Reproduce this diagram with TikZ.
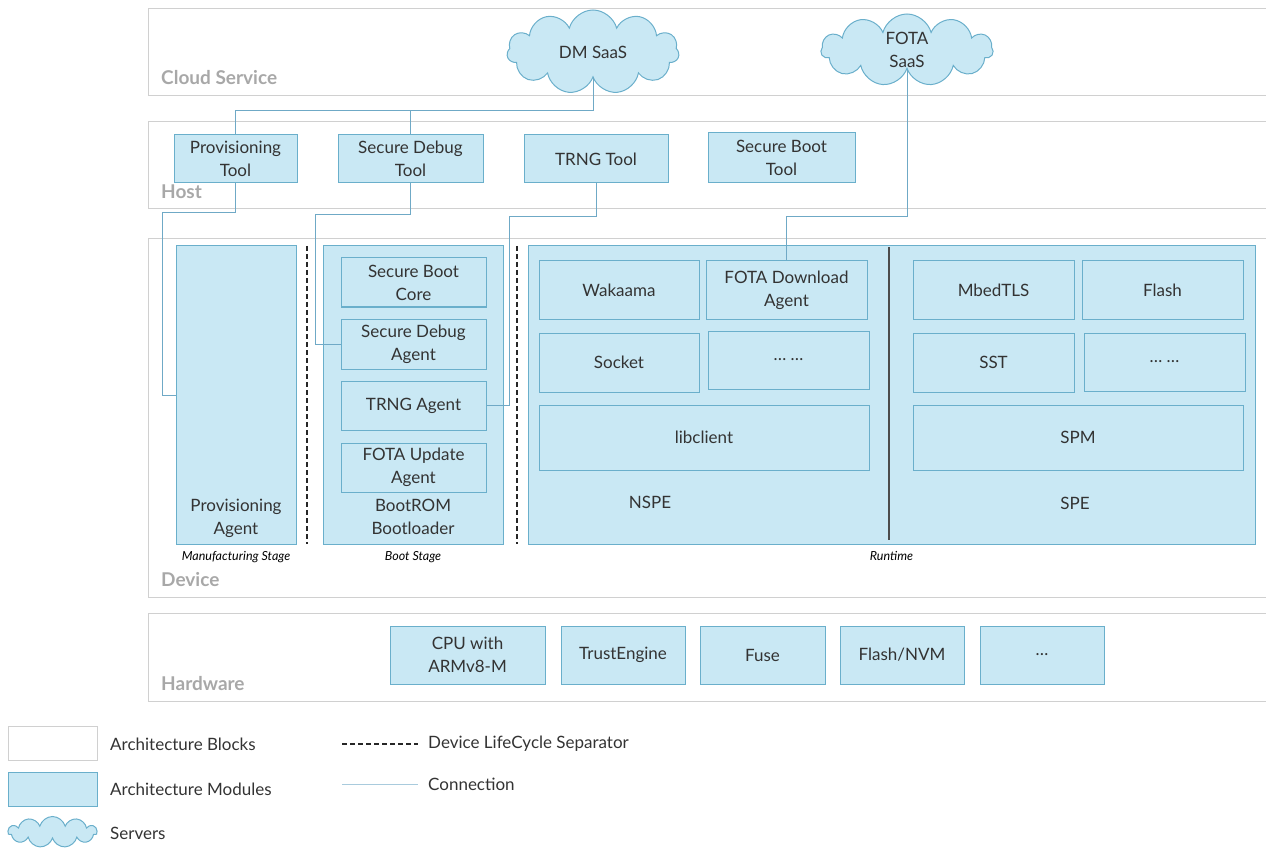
\documentclass[tikz,border=0pt]{standalone}
\usepackage{fontspec}
\setmainfont{Lato}
\usetikzlibrary{shapes.symbols}
\definecolor{modfill}{HTML}{C9E8F4}
\definecolor{moddraw}{HTML}{6AAFCB}
\definecolor{blkdraw}{HTML}{D0D0D0}
\definecolor{lblgray}{HTML}{A8A8A8}
\definecolor{txtgray}{HTML}{333333}
\definecolor{connblue}{HTML}{6FA9C6}

\begin{document}
\begin{tikzpicture}[x=1pt,y=-1pt]
\tikzstyle{every node}+=[inner sep=0pt, text=txtgray, align=center, font=\fontsize{17}{23}\selectfont]
\tikzstyle{block}=[draw=blkdraw, line width=1.3pt, rectangle, anchor=north west]
\tikzstyle{module}=[draw=moddraw, fill=modfill, line width=1pt, rectangle]
\tikzstyle{server}=[cloud, cloud puffs=11, aspect=2.2, draw=moddraw, fill=modfill, line width=1pt]
\tikzstyle{blklabel}=[anchor=west, text=lblgray, font=\bfseries\fontsize{19}{21}\selectfont]
\tikzstyle{stagelabel}=[font=\itshape\fontsize{12.5}{14}\selectfont, text=black]
\tikzstyle{conn}=[draw=connblue, line width=0.8pt]
\tikzstyle{sep}=[draw=black!85, line width=1.4pt, dash pattern=on 5pt off 3pt]
\useasboundingbox (0,0) rectangle (1266,850);
% blocks
\node[block, minimum width=1122, minimum height=87] (cloudblk) at (148,8) {};
\node[blklabel] (cloudlbl) at (161,78) {Cloud Service};
\node[block, minimum width=1122, minimum height=87] (hostblk) at (148,121) {};
\node[blklabel] (hostlbl) at (161,192) {Host};
\node[block, minimum width=1122, minimum height=359] (deviceblk) at (148,238) {};
\node[blklabel] (devicelbl) at (161,580) {Device};
\node[block, minimum width=1122, minimum height=88] (hwblk) at (148,613) {};
\node[blklabel] (hwlbl) at (161,684) {Hardware};
% cloud service
\node[server, minimum width=172, minimum height=84] (dmsaas) at (593,52) {DM SaaS};
\node[server, minimum width=172, minimum height=72] (fotasaas) at (907,50) {FOTA\\SaaS};
% host
\node[module, minimum width=123, minimum height=48] (provtool) at (235.5,159) {Provisioning\\Tool};
\node[module, minimum width=145, minimum height=48] (dbgtool) at (410.5,159) {Secure Debug\\Tool};
\node[module, minimum width=144, minimum height=48] (trngtool) at (596,159) {TRNG Tool};
\node[module, minimum width=147, minimum height=50] (boottool) at (781.5,158) {Secure Boot\\Tool};
% device: manufacturing stage
\node[module, minimum width=120, minimum height=298,
  label={[anchor=south, yshift=-292pt]north:{Provisioning\\Agent}},
  label={[stagelabel, yshift=-7pt]south:Manufacturing Stage}] (provagent) at (236,395) {};
\draw[sep] (307,246) -- (307,544);
% device: boot stage
\node[module, minimum width=180, minimum height=298,
  label={[anchor=south, yshift=-289pt]north:{BootROM\\Bootloader}},
  label={[stagelabel, yshift=-7pt]south:Boot Stage}] (bootblk) at (413,395) {};
\node[module, minimum width=145, minimum height=49] (bootcore) at (413.5,282.5) {Secure Boot\\Core};
\node[module, minimum width=145, minimum height=50] (dbgagent) at (413.5,344) {Secure Debug\\Agent};
\node[module, minimum width=145, minimum height=49] (trngagent) at (413.5,405.5) {TRNG Agent};
\node[module, minimum width=145, minimum height=49] (updagent) at (413.5,467.5) {FOTA Update\\Agent};
\draw[sep] (517,246) -- (517,544);
% device: runtime
\node[module, minimum width=727, minimum height=298,
  label={[stagelabel, yshift=-7pt]south:Runtime}] (runtime) at (891.5,395) {};
\draw[draw=black!70, line width=1.8pt] (889,247) -- (889,540);
\node[module, minimum width=160, minimum height=58] (wakaama) at (619,290) {Wakaama};
\node[module, minimum width=161, minimum height=58] (fotadl) at (786.5,290) {FOTA Download\\Agent};
\node[module, minimum width=160, minimum height=59] (socket) at (619,362.5) {Socket};
\node[module, minimum width=161, minimum height=58] (nsmore) at (788.5,360) {\dots\ \dots};
\node[module, minimum width=330, minimum height=65] (libclient) at (704,437.5) {libclient};
\node (nspe) at (650,502) {NSPE};
\node[module, minimum width=161, minimum height=58] (mbedtls) at (993.5,290) {MbedTLS};
\node[module, minimum width=161, minimum height=58] (flash) at (1162.5,290) {Flash};
\node[module, minimum width=161, minimum height=59] (sst) at (993.5,362.5) {SST};
\node[module, minimum width=161, minimum height=58] (smore) at (1164.5,362) {\dots\ \dots};
\node[module, minimum width=330, minimum height=65] (spm) at (1078,437.5) {SPM};
\node (spe) at (1075,503) {SPE};
% hardware
\node[module, minimum width=155, minimum height=58] (cpu) at (467.5,655) {CPU with\\ARMv8-M};
\node[module, minimum width=124, minimum height=58] (trust) at (623,655) {TrustEngine};
\node[module, minimum width=125, minimum height=58] (fuse) at (762.5,655) {Fuse};
\node[module, minimum width=124, minimum height=58] (nvm) at (902,655) {Flash/NVM};
\node[module, minimum width=124, minimum height=58] (hwmore) at (1042,655) {\dots};
% connections
\coordinate (dmbus) at (dmsaas.south |- 0,110);
\draw[conn] (dmsaas.south) -- (dmbus) -| (provtool.north);
\draw[conn] (dmbus) -| (dbgtool.north);
\draw[conn] (provtool.south) -- ++(0,29) -| ([xshift=-13pt]provagent.west) -- (provagent.west);
\draw[conn] (dbgtool.south) -- ++(0,31) -| ([xshift=-25pt]dbgagent.west) -- (dbgagent.west);
\draw[conn] (trngtool.south) -- ++(0,33) -| ([xshift=23pt]trngagent.east) -- (trngagent.east);
\draw[conn] (fotasaas.south) -- (fotasaas.south |- 0,216) -| (fotadl.north);
% legend
\node[block, minimum width=89, minimum height=34] (legblock) at (8,726) {};
\node[anchor=west] (legblocktxt) at (110,744) {Architecture Blocks};
\node[module, anchor=north west, minimum width=89, minimum height=34] (legmodule) at (8,772) {};
\node[anchor=west] (legmoduletxt) at (110,789) {Architecture Modules};
\node[server, minimum width=89, minimum height=31] (legserver) at (52.5,832) {};
\node[anchor=west] (legservertxt) at (110,833) {Servers};
\coordinate (legsepa) at (342,744);
\node[anchor=west] (legseptxt) at (428,744) {Device LifeCycle Separator};
\draw[sep, line width=1.2pt] (legsepa) -- ([xshift=-10pt]legseptxt.west);
\coordinate (legconna) at (342,784);
\node[anchor=west] (legconntxt) at (428,784) {Connection};
\draw[conn, draw=connblue!60] (legconna) -- ([xshift=-10pt]legconntxt.west);
\end{tikzpicture}
\end{document}
